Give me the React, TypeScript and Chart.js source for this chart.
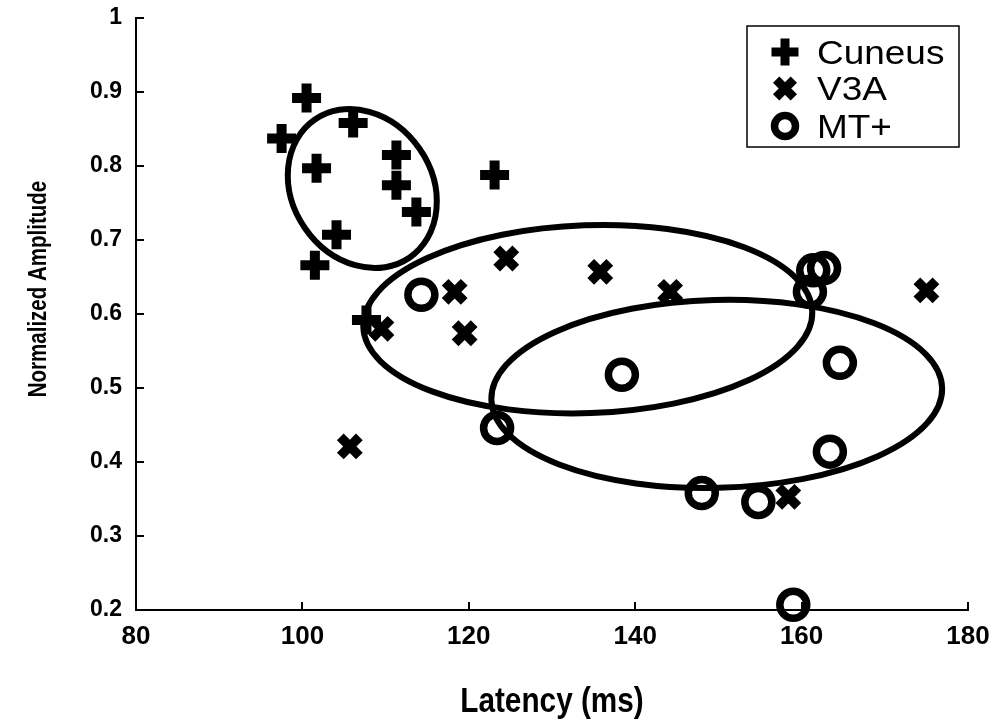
import React, { useEffect, useRef } from 'react';
import { Chart, registerables } from 'chart.js';
import { drawPoint } from 'chart.js/helpers';

Chart.register(...registerables);

const WIDTH = 994;
const HEIGHT = 723;
const INK = '#000';
const SANS = '"Liberation Sans", Arial, Helvetica, sans-serif';

// Series labels, in legend order
const seriesNames = ['Cuneus', 'V3A', 'MT+'];

// Peak latency (ms) and normalized amplitude per subject
const cuneusLatency = [100.5, 97.5, 106.1, 101.7, 111.3, 111.3, 113.7, 104.1, 101.5, 123.1, 107.7];
const cuneusAmplitude = [0.892, 0.837, 0.858, 0.797, 0.815, 0.774, 0.738, 0.707, 0.666, 0.788, 0.592];

const v3aLatency = [109.5, 118.3, 119.5, 124.5, 135.8, 144.2, 175.0, 105.7, 158.4];
const v3aAmplitude = [0.58, 0.63, 0.574, 0.675, 0.657, 0.63, 0.632, 0.421, 0.353];

const mtLatency = [114.3, 138.4, 123.4, 148.0, 154.8, 164.6, 163.4, 159.0, 161.4, 162.7, 161.0];
const mtAmplitude = [0.626, 0.518, 0.446, 0.358, 0.346, 0.534, 0.414, 0.207, 0.659, 0.662, 0.63];

// Spread ellipses, one per area: centre, half-extent along each axis, tilt (degrees)
const ellipseCenterLatency = [107.2, 134.3, 149.8];
const ellipseCenterAmplitude = [0.7696, 0.593, 0.492];
const ellipseHalfLatency = [8.38, 27.0, 27.1];
const ellipseHalfAmplitude = [0.1131, 0.127, 0.127];
const ellipseTiltDeg = [-34.5, -2, -1.5];

// Axis ticks
const xTickValues = [80, 100, 120, 140, 160, 180];
const yTickValues = [0.2, 0.3, 0.4, 0.5, 0.6, 0.7, 0.8, 0.9, 1];

const xTitle = 'Latency (ms)';
const yTitle = 'Normalized Amplitude';

const markerStyles = [
  { pointStyle: 'cross', radius: 14.5, borderWidth: 10 },
  { pointStyle: 'crossRot', radius: 13.5, borderWidth: 9.5 },
  { pointStyle: 'circle', radius: 13.5, borderWidth: 7.5 },
];
const legendMarkerStyles = [
  { pointStyle: 'cross', radius: 13.5, borderWidth: 9 },
  { pointStyle: 'crossRot', radius: 12.5, borderWidth: 9 },
  { pointStyle: 'circle', radius: 10.5, borderWidth: 7.5 },
];

const toPoints = (xs: number[], ys: number[]) => xs.map((x, i) => ({ x, y: ys[i] }));

// Scales contribute no extra edge padding; the plot box is set by layout.padding alone
const clearScalePadding = (s: any) => {
  s.paddingTop = 0;
  s.paddingBottom = 0;
  s.paddingLeft = 0;
  s.paddingRight = 0;
};

const paperPlugin = {
  id: 'paper',
  beforeDraw(chart: any) {
    const { ctx, width, height } = chart;
    ctx.save();
    ctx.fillStyle = '#fff';
    ctx.fillRect(0, 0, width, height);
    ctx.restore();
  },
};

const ellipsePlugin = {
  id: 'spreadEllipses',
  afterDatasetsDraw(chart: any) {
    const { ctx, scales } = chart;
    const xs = scales.x;
    const ys = scales.y;
    ctx.save();
    ctx.strokeStyle = INK;
    ctx.lineWidth = 6;
    ellipseCenterLatency.forEach((cxVal, i) => {
      const cx = xs.getPixelForValue(cxVal);
      const cy = ys.getPixelForValue(ellipseCenterAmplitude[i]);
      const rx = Math.abs(xs.getPixelForValue(cxVal + ellipseHalfLatency[i]) - cx);
      const ry = Math.abs(ys.getPixelForValue(ellipseCenterAmplitude[i] + ellipseHalfAmplitude[i]) - cy);
      ctx.beginPath();
      ctx.ellipse(cx, cy, rx, ry, (ellipseTiltDeg[i] * Math.PI) / 180, 0, Math.PI * 2);
      ctx.stroke();
    });
    ctx.restore();
  },
};

const inwardTicksPlugin = {
  id: 'inwardTicks',
  afterDraw(chart: any) {
    const { ctx, chartArea, scales } = chart;
    ctx.save();
    ctx.strokeStyle = INK;
    ctx.lineWidth = 2;
    ctx.beginPath();
    scales.x.ticks.forEach((t: any) => {
      const px = Math.round(scales.x.getPixelForValue(t.value));
      ctx.moveTo(px, chartArea.bottom);
      ctx.lineTo(px, chartArea.bottom - 8);
    });
    scales.y.ticks.forEach((t: any) => {
      const py = Math.round(scales.y.getPixelForValue(t.value));
      ctx.moveTo(chartArea.left, py);
      ctx.lineTo(chartArea.left + 8, py);
    });
    ctx.stroke();
    ctx.restore();
  },
};

const axisTitlesPlugin = {
  id: 'axisTitles',
  afterDraw(chart: any) {
    const { ctx, chartArea, height } = chart;
    ctx.save();
    ctx.fillStyle = INK;
    ctx.textAlign = 'center';
    ctx.textBaseline = 'alphabetic';

    ctx.save();
    ctx.translate((chartArea.left + chartArea.right) / 2, height - 11);
    ctx.scale(0.85, 1);
    ctx.font = `bold 35px ${SANS}`;
    ctx.fillText(xTitle, 0, 0);
    ctx.restore();

    ctx.save();
    ctx.translate(46, 289);
    ctx.rotate(-Math.PI / 2);
    ctx.scale(0.82, 1);
    ctx.font = `bold 25px ${SANS}`;
    ctx.fillText(yTitle, 0, 0);
    ctx.restore();

    ctx.restore();
  },
};

const boxedLegendPlugin = {
  id: 'boxedLegend',
  afterDraw(chart: any) {
    const { ctx, chartArea } = chart;
    const left = chartArea.right - 221;
    const top = chartArea.top + 8;
    const w = 212;
    const h = 121;
    ctx.save();
    ctx.fillStyle = '#fff';
    ctx.fillRect(left, top, w, h);
    ctx.strokeStyle = INK;
    ctx.lineWidth = 1.5;
    ctx.strokeRect(left, top, w, h);

    const rowCenters = [26, 62.5, 100];
    chart.data.datasets.forEach((ds: any, i: number) => {
      const cy = top + rowCenters[i];
      const m = legendMarkerStyles[i];
      ctx.save();
      ctx.strokeStyle = INK;
      ctx.fillStyle = 'rgba(0,0,0,0)';
      ctx.lineWidth = m.borderWidth;
      drawPoint(ctx, { pointStyle: m.pointStyle, rotation: 0, radius: m.radius, borderWidth: m.borderWidth } as any, left + 38, cy);
      ctx.restore();

      ctx.save();
      ctx.fillStyle = INK;
      ctx.textAlign = 'left';
      ctx.textBaseline = 'alphabetic';
      ctx.translate(left + 70, cy + 11.5);
      ctx.scale(1.12, 1);
      ctx.font = `33px ${SANS}`;
      ctx.fillText(ds.label, 0, 0);
      ctx.restore();
    });
    ctx.restore();
  },
};

export default function App() {
  const canvasRef = useRef<HTMLCanvasElement | null>(null);

  useEffect(() => {
    const canvas = canvasRef.current;
    if (!canvas) return;

    const seriesPoints = [
      toPoints(cuneusLatency, cuneusAmplitude),
      toPoints(v3aLatency, v3aAmplitude),
      toPoints(mtLatency, mtAmplitude),
    ];

    const chart = new Chart(canvas, {
      type: 'scatter',
      data: {
        datasets: seriesNames.map((label, i) => ({
          label,
          data: seriesPoints[i],
          pointStyle: markerStyles[i].pointStyle as any,
          pointRadius: markerStyles[i].radius,
          pointBorderWidth: markerStyles[i].borderWidth,
          pointBorderColor: INK,
          pointBackgroundColor: 'rgba(0,0,0,0)',
          showLine: false,
          clip: false as any,
        })),
      },
      options: {
        responsive: false,
        animation: false,
        events: [],
        layout: { autoPadding: false, padding: { top: 18, right: 26, left: 0, bottom: 0 } },
        plugins: {
          legend: { display: false },
          tooltip: { enabled: false },
          title: { display: false },
        },
        scales: {
          x: {
            type: 'linear',
            position: 'bottom',
            min: 80,
            max: 180,
            afterBuildTicks: (s: any) => {
              s.ticks = xTickValues.map((value) => ({ value }));
            },
            afterFit: (s: any) => {
              s.height = 113;
              clearScalePadding(s);
            },
            grid: { display: false, drawTicks: false },
            border: { display: true, color: INK, width: 2 },
            ticks: {
              color: INK,
              padding: 11,
              autoSkip: false,
              maxRotation: 0,
              font: { family: SANS, size: 26, weight: 'bold' },
              callback: (v: any) => String(v),
            },
          },
          y: {
            type: 'linear',
            min: 0.2,
            max: 1,
            afterBuildTicks: (s: any) => {
              s.ticks = yTickValues.map((value) => ({ value }));
            },
            afterFit: (s: any) => {
              s.width = 136;
              clearScalePadding(s);
            },
            grid: { display: false, drawTicks: false },
            border: { display: true, color: INK, width: 2 },
            ticks: {
              color: INK,
              padding: 14,
              autoSkip: false,
              font: { family: SANS, size: 23, weight: 'bold' },
              callback: (v: any) => String(v),
            },
          },
        },
      } as any,
      plugins: [paperPlugin, ellipsePlugin, inwardTicksPlugin, axisTitlesPlugin, boxedLegendPlugin],
    });

    return () => chart.destroy();
  }, []);

  return (
    <div style={{ position: 'fixed', left: 0, top: 0, width: WIDTH, height: HEIGHT, background: '#fff' }}>
      <canvas ref={canvasRef} width={WIDTH} height={HEIGHT} style={{ display: 'block' }} />
    </div>
  );
}
